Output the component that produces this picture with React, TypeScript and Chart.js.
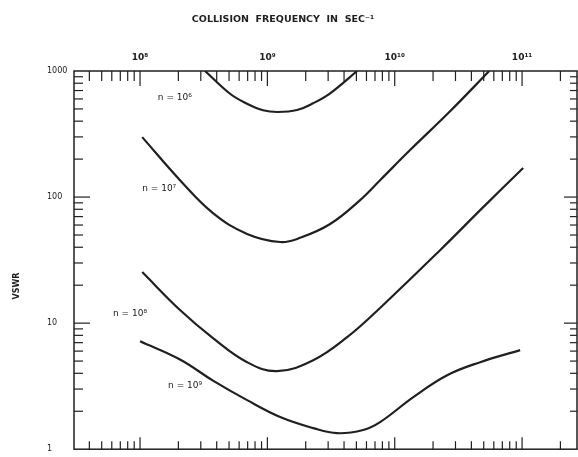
import React, { useEffect, useRef } from "react";
import { Chart, registerables } from "chart.js";

Chart.register(...registerables);

// Axis ticks / labels
const xDecades = [1e8, 1e9, 1e10, 1e11];
const xTickLabels = ["10⁸", "10⁹", "10¹⁰", "10¹¹"];
const yTickValues = [1, 10, 100, 1000];
const yTickLabels = ["1", "10", "100", "1000"];
const xMin = 3.03e7;
const xMax = 2.7e11;
const yMin = 1;
const yMax = 1000;

const chartTitle = "COLLISION  FREQUENCY  IN  SEC⁻¹";
const yTitle = "VSWR";

// Series: collision frequency (sec^-1) vs VSWR
const n6Freq = [3.24e8, 5.09e8, 6.93e8, 9.25e8, 1.21e9, 1.71e9, 2.29e9, 3.11e9, 5.07e9];
const n6Vswr = [1000, 660, 550, 488, 473, 490, 555, 665, 1000];

const n7Freq = [1.04e8, 2.06e8, 3.74e8, 6.93e8, 1.26e9, 1.81e9, 3.11e9, 5.35e9, 7.67e9, 1.32e10, 2.72e10, 5.52e10];
const n7Vswr = [299, 136, 74.6, 51.0, 44.0, 47.5, 61.1, 94.6, 136, 236, 479, 1000];

const n8Freq = [1.04e8, 2.06e8, 3.74e8, 6.93e8, 1.19e9, 2.29e9, 4.23e9, 7.67e9, 2.27e10, 5.0e10, 1.02e11];
const n8Vswr = [25.4, 12.7, 7.6, 4.9, 4.16, 5.08, 7.74, 13.2, 37.9, 84, 170];

const n9Freq = [1.0e8, 2.06e8, 3.74e8, 6.93e8, 1.26e9, 2.29e9, 3.53e9, 5.65e9, 7.67e9, 1.4e10, 2.58e10, 4.69e10, 9.66e10];
const n9Vswr = [7.19, 5.15, 3.5, 2.45, 1.8, 1.47, 1.34, 1.42, 1.64, 2.59, 3.86, 4.9, 6.11];

// Curve labels (anchored in data coordinates)
const curveLabels = ["n = 10⁶", "n = 10⁷", "n = 10⁸", "n = 10⁹"];
const labelFreq = [1.38e8, 1.04e8, 6.14e7, 1.66e8];
const labelVswr = [611, 116, 11.8, 3.22];

const ink = "#202020";

function pts(f: number[], v: number[]) {
  return f.map((x, i) => ({ x, y: v[i] }));
}

export default function App() {
  const ref = useRef<HTMLCanvasElement>(null);

  useEffect(() => {
    const canvas = ref.current;
    if (!canvas) return;

    const inkPlugin = {
      id: "inkPlugin",
      afterDraw(chart: any) {
        const { ctx, chartArea: a } = chart;
        const x = chart.scales.x;
        const y = chart.scales.y;
        ctx.save();
        ctx.strokeStyle = ink;
        ctx.lineWidth = 1.5;
        ctx.strokeRect(a.left, a.top, a.right - a.left, a.bottom - a.top);

        const seg = (x1: number, y1: number, x2: number, y2: number) => {
          ctx.beginPath();
          ctx.moveTo(x1, y1);
          ctx.lineTo(x2, y2);
          ctx.stroke();
        };
        ctx.lineWidth = 1.2;
        for (let e = 7; e <= 11; e++) {
          for (let m = 1; m <= 9; m++) {
            const v = m * Math.pow(10, e);
            if (v <= x.min || v >= x.max) continue;
            const px = x.getPixelForValue(v);
            const major = m === 1;
            seg(px, a.top, px, a.top + (major ? 15 : 10));
            seg(px, a.bottom, px, a.bottom - (major ? 12 : 8));
          }
        }
        for (let e = 0; e <= 3; e++) {
          for (let m = 1; m <= 9; m++) {
            const v = m * Math.pow(10, e);
            if (v <= y.min || v >= y.max) continue;
            const py = y.getPixelForValue(v);
            const major = m === 1;
            seg(a.left, py, a.left + (major ? 16 : 9), py);
            seg(a.right, py, a.right - (major ? 13 : 7), py);
          }
        }

        // curve labels
        ctx.fillStyle = ink;
        ctx.font = '9px "DejaVu Sans"';
        ctx.textAlign = "left";
        ctx.textBaseline = "middle";
        curveLabels.forEach((t, i) => {
          ctx.fillText(t, x.getPixelForValue(labelFreq[i]), y.getPixelForValue(labelVswr[i]));
        });

        // title
        ctx.font = 'bold 9.5px "DejaVu Sans"';
        ctx.textAlign = "center";
        ctx.fillText(chartTitle, 283, 20);

        // y title
        ctx.save();
        ctx.translate(17, 286);
        ctx.rotate(-Math.PI / 2);
        ctx.font = 'bold 8px "DejaVu Sans"';
        ctx.fillText(yTitle, 0, 0);
        ctx.restore();

        ctx.restore();
      },
    };

    const mk = (f: number[], v: number[]) => ({
      data: pts(f, v),
      borderColor: ink,
      borderWidth: 2.2,
      pointRadius: 0,
      fill: false,
      tension: 0.4,
    });

    const chart = new Chart(canvas, {
      type: "line",
      data: {
        datasets: [mk(n6Freq, n6Vswr), mk(n7Freq, n7Vswr), mk(n8Freq, n8Vswr), mk(n9Freq, n9Vswr)],
      },
      options: {
        animation: false,
        responsive: false,
        devicePixelRatio: 1,
        layout: { padding: { top: 0, left: 47, right: 1, bottom: 7 } },
        plugins: {
          legend: { display: false },
          title: { display: false },
          tooltip: { enabled: false },
        },
        scales: {
          x: {
            type: "logarithmic",
            position: "top",
            min: xMin,
            max: xMax,
            grid: { display: false, drawTicks: false },
            border: { display: false },
            afterBuildTicks: (s: any) => {
              s.ticks = xDecades.map((value) => ({ value }));
            },
            afterFit: (s: any) => {
              s.height = 71;
            },
            ticks: {
              autoSkip: false,
              maxRotation: 0,
              padding: 8,
              color: ink,
              font: { family: "DejaVu Sans", size: 9, weight: "bold" },
              callback: (_v: any, i: number) => xTickLabels[i],
            },
          },
          y: {
            type: "logarithmic",
            position: "left",
            min: yMin,
            max: yMax,
            grid: { display: false, drawTicks: false },
            border: { display: false },
            afterBuildTicks: (s: any) => {
              s.ticks = yTickValues.map((value) => ({ value }));
            },
            afterFit: (s: any) => {
              s.width = 27;
            },
            ticks: {
              autoSkip: false,
              crossAlign: "far",
              color: ink,
              font: { family: "DejaVu Sans", size: 8 },
              callback: (_v: any, i: number) => yTickLabels[i],
            },
          },
        },
      },
      plugins: [inkPlugin],
    });

    return () => chart.destroy();
  }, []);

  return (
    <div style={{ position: "fixed", left: 0, top: 0, width: 578, height: 457, background: "#fff" }}>
      <canvas ref={ref} width={578} height={457} style={{ display: "block" }} />
    </div>
  );
}
